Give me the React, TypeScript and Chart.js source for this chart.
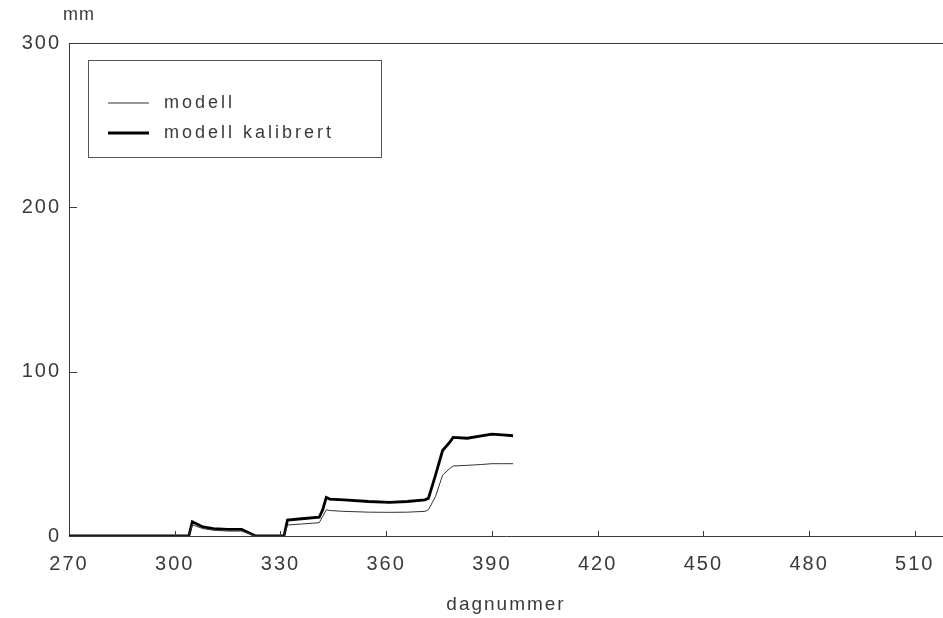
import React, { useEffect, useRef } from "react";
import { Chart, registerables } from "chart.js";

Chart.register(...registerables);

const days = [270, 304, 305, 308, 311, 315, 319, 321, 323, 331, 332, 336, 341, 342, 343, 344, 348, 355, 361, 366, 371, 372, 374, 376, 378, 379, 383, 387, 390, 393, 396];
const kalibrert = [0, 0, 8.7, 5.5, 4.5, 4, 4, 2, 0, 0, 9.7, 10.5, 11.4, 16, 23.5, 22.5, 22, 21, 20.5, 21, 22, 23, 37, 52, 57, 60, 59.5, 61, 62, 61.5, 61];
const modell = [0, 0, 6.8, 4.5, 3.5, 3, 3, 1.5, 0, 0, 6.7, 7.3, 8.1, 12, 16, 15.5, 15, 14.5, 14.4, 14.5, 15, 16, 24, 37, 41, 42.6, 43, 43.5, 44, 44, 44];
const seriesLabels = ["modell", "modell kalibrert"];
const xTicks = [270, 300, 330, 360, 390, 420, 450, 480, 510];
const yTicks = [0, 100, 200, 300];
const xTitle = "dagnummer";
const yUnit = "mm";

const FONT = "'Liberation Sans', Arial, sans-serif";
const INK = "#3a3a3a";

const decor = {
  id: "decor",
  beforeDraw(chart: any) {
    chart.ctx.letterSpacing = "2px";
  },
  afterDraw(chart: any) {
    const ctx = chart.ctx;
    const a = chart.chartArea;
    const xs = chart.scales.x;
    const ys = chart.scales.y;
    ctx.save();
    ctx.letterSpacing = "0px";
    ctx.strokeStyle = INK;
    ctx.lineWidth = 1;
    // top frame line
    ctx.beginPath();
    ctx.moveTo(a.left, a.top + 0.5);
    ctx.lineTo(a.right, a.top + 0.5);
    ctx.stroke();
    // inward ticks on x
    ctx.beginPath();
    for (const t of xTicks) {
      if (t === xTicks[0]) continue;
      const px = Math.round(xs.getPixelForValue(t)) + 0.5;
      ctx.moveTo(px, a.bottom);
      ctx.lineTo(px, a.bottom - 5);
    }
    // inward ticks on y
    for (const t of yTicks) {
      if (t === 0) continue;
      const py = Math.round(ys.getPixelForValue(t)) + 0.5;
      ctx.moveTo(a.left, py);
      ctx.lineTo(a.left + 8, py);
    }
    ctx.stroke();

    // unit label
    ctx.fillStyle = INK;
    ctx.font = `18px ${FONT}`;
    ctx.letterSpacing = "1px";
    ctx.textAlign = "left";
    ctx.textBaseline = "middle";
    ctx.fillText(yUnit, a.left - 6, a.top - 28);

    // legend box
    const lx = a.left + 19;
    const ly = a.top + 17;
    const lw = 293;
    const lh = 97;
    ctx.strokeStyle = "#555";
    ctx.lineWidth = 1;
    ctx.strokeRect(lx + 0.5, ly + 0.5, lw, lh);
    const rows = [ly + 43, ly + 73];
    chart.data.datasets.forEach((ds: any, i: number) => {
      ctx.beginPath();
      ctx.strokeStyle = ds.borderColor;
      ctx.lineWidth = ds.borderWidth;
      ctx.moveTo(lx + 20, rows[i]);
      ctx.lineTo(lx + 61, rows[i]);
      ctx.stroke();
      ctx.fillStyle = INK;
      ctx.font = `18px ${FONT}`;
      ctx.letterSpacing = "3px";
      ctx.fillText(ds.label, lx + 76, rows[i]);
    });
    ctx.restore();
  },
};

export default function App() {
  const ref = useRef<HTMLCanvasElement | null>(null);
  useEffect(() => {
    if (!ref.current) return;
    const chart = new Chart(ref.current, {
      type: "line",
      data: {
        datasets: [
          {
            label: seriesLabels[0],
            data: days.map((d, i) => ({ x: d, y: modell[i] })),
            borderColor: "#333",
            borderWidth: 1,
            pointRadius: 0,
            tension: 0,
            fill: false,
          },
          {
            label: seriesLabels[1],
            data: days.map((d, i) => ({ x: d, y: kalibrert[i] })),
            borderColor: "#000",
            borderWidth: 2.8,
            pointRadius: 0,
            tension: 0,
            fill: false,
          },
        ],
      },
      options: {
        animation: false,
        responsive: false,
        devicePixelRatio: 1,
        layout: { padding: { top: 43, right: 0, left: 0, bottom: 0 } },
        plugins: { legend: { display: false }, tooltip: { enabled: false } },
        scales: {
          x: {
            type: "linear",
            min: 270,
            max: 518,
            afterBuildTicks: (s: any) => {
              s.ticks = xTicks.map((v) => ({ value: v }));
            },
            afterFit: (s: any) => {
              s.height = 82;
              s.paddingLeft = 0;
              s.paddingRight = 0;
            },
            grid: { display: false, drawTicks: false },
            border: { display: true, color: INK, width: 1 },
            ticks: {
              padding: 16,
              color: INK,
              font: { family: FONT, size: 20 },
              maxRotation: 0,
              autoSkip: false,
            },
            title: {
              display: true,
              text: xTitle,
              color: INK,
              font: { family: FONT, size: 19 },
              padding: { top: 0, bottom: 2 },
            },
          },
          y: {
            type: "linear",
            min: 0,
            max: 300,
            afterBuildTicks: (s: any) => {
              s.ticks = yTicks.map((v) => ({ value: v }));
            },
            afterFit: (s: any) => {
              s.width = 69;
              s.paddingTop = 0;
              s.paddingBottom = 0;
            },
            grid: { display: false, drawTicks: false },
            border: { display: true, color: INK, width: 1 },
            ticks: {
              padding: 8,
              color: INK,
              font: { family: FONT, size: 20 },
            },
          },
        },
      },
      plugins: [decor],
    } as any);
    return () => chart.destroy();
  }, []);
  return (
    <div style={{ position: "fixed", left: 0, top: 0, width: 943, height: 618, background: "#fff" }}>
      <canvas ref={ref} width={943} height={618} />
    </div>
  );
}
